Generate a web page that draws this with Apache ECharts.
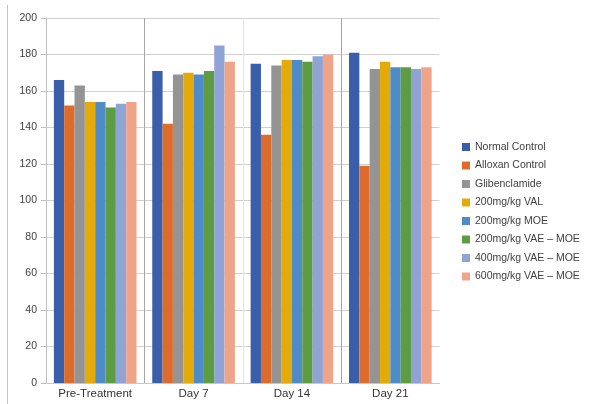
<!DOCTYPE html>
<html>
<head>
<meta charset="utf-8">
<script src="https://cdn.jsdelivr.net/npm/echarts@6/dist/echarts.min.js"></script>
<style>
  html, body { margin: 0; padding: 0; background: #fff; }
  #chart { width: 591px; height: 404px; }
</style>
</head>
<body>
<div id="chart"></div>
<script>
// Blood glucose by treatment group over the study period
const timepoints = ['Pre-Treatment', 'Day 7', 'Day 14', 'Day 21'];

const normalControl   = [166, 171, 175, 181];
const alloxanControl  = [152, 142, 136, 119];
const glibenclamide   = [163, 169, 174, 172];
const val200          = [154, 170, 177, 176];
const moe200          = [154, 169, 177, 173];
const vaeMoe200       = [151, 171, 176, 173];
const vaeMoe400       = [153, 185, 179, 172];
const vaeMoe600       = [154, 176, 180, 173];

const yTicks = { min: 0, max: 200, step: 20 };

const groups = [
  { name: 'Normal Control',      values: normalControl,  color: '#3b5eab' },
  { name: 'Alloxan Control',     values: alloxanControl, color: '#dc6b2c' },
  { name: 'Glibenclamide',       values: glibenclamide,  color: '#949494' },
  { name: '200mg/kg VAL',        values: val200,         color: '#e3aa0a' },
  { name: '200mg/kg MOE',        values: moe200,         color: '#4f8bc6' },
  { name: '200mg/kg VAE – MOE',  values: vaeMoe200,      color: '#5d9c42' },
  { name: '400mg/kg VAE – MOE',  values: vaeMoe400,      color: '#8fa3d4' },
  { name: '600mg/kg VAE – MOE',  values: vaeMoe600,      color: '#f0a487' }
];

const font = 'Liberation Sans, Arial, sans-serif';
const chart = echarts.init(document.getElementById('chart'), null, { renderer: 'canvas' });

chart.setOption({
  animation: false,
  backgroundColor: '#ffffff',
  color: groups.map(g => g.color),
  grid: { left: 46, right: 151.5, top: 18, bottom: 21, containLabel: false },
  legend: {
    orient: 'vertical',
    left: 457,
    top: 136,
    itemWidth: 8,
    itemHeight: 8,
    itemGap: 6.5,
    icon: 'rect',
    textStyle: { fontFamily: font, fontSize: 10.5, color: '#404040', lineHeight: 12 },
    data: groups.map(g => g.name)
  },
  xAxis: {
    type: 'category',
    data: timepoints,
    boundaryGap: true,
    axisLine: { show: true, lineStyle: { color: '#c8c8c8', width: 1 } },
    axisTick: { show: false },
    axisLabel: { fontFamily: font, fontSize: 11.5, color: '#333333', margin: 5 },
    splitLine: {
      show: true,
      lineStyle: { color: ['rgba(0,0,0,0)', '#a6a6a6', '#e4e4e4', '#a6a6a6', 'rgba(0,0,0,0)'], width: 1 }
    }
  },
  yAxis: {
    type: 'value',
    min: yTicks.min,
    max: yTicks.max,
    interval: yTicks.step,
    axisLine: { show: true, lineStyle: { color: '#bfbfbf', width: 1 } },
    axisTick: { show: true, length: 5, lineStyle: { color: '#bfbfbf' } },
    axisLabel: { fontFamily: font, fontSize: 10.5, color: '#404040', margin: 9 },
    splitLine: { show: true, lineStyle: { color: '#d0d0d0', width: 1 } }
  },
  graphic: [{
    type: 'line',
    shape: { x1: 7.5, y1: 5, x2: 7.5, y2: 404 },
    style: { stroke: '#c4c4c4', lineWidth: 1 },
    silent: true
  }],
  series: groups.map(g => ({
    name: g.name,
    type: 'bar',
    data: g.values,
    barGap: '0%',
    barCategoryGap: '16%',
    itemStyle: { color: g.color }
  }))
});
</script>
</body>
</html>
